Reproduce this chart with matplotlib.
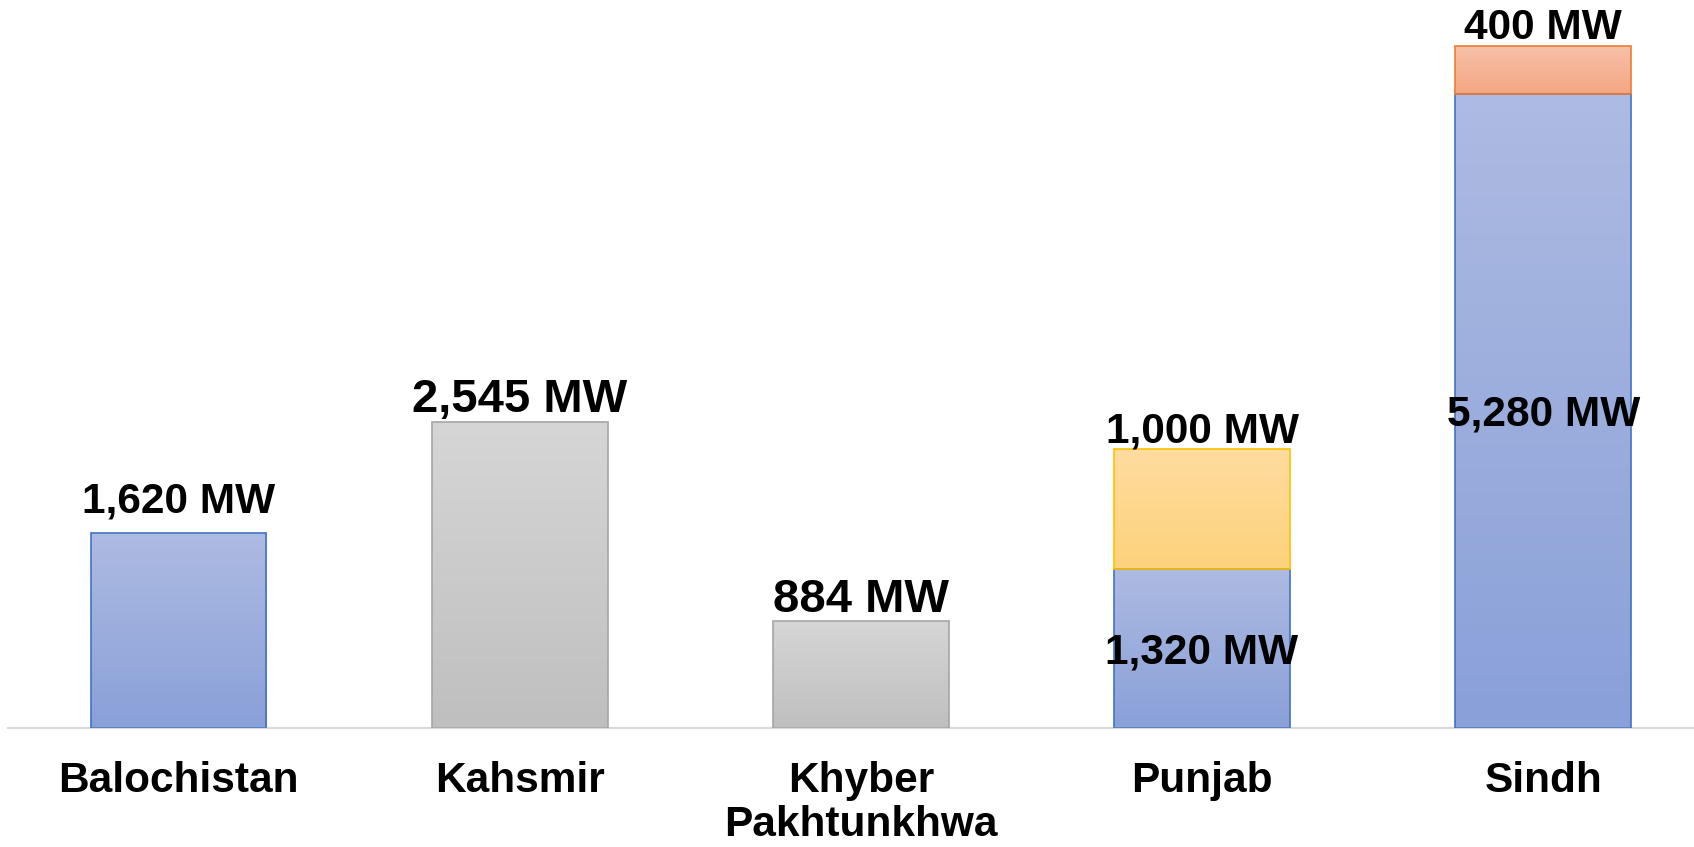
import numpy as np
import matplotlib
matplotlib.use("Agg")
import matplotlib.pyplot as plt
from matplotlib.colors import to_rgb

# ---------------- data ----------------
categories = ["Balochistan", "Kahsmir", "Khyber\nPakhtunkhwa", "Punjab", "Sindh"]
series_blue = [1620, 0, 0, 1320, 5280]
series_gray = [0, 2545, 884, 0, 0]
series_yellow = [0, 0, 0, 1000, 0]
series_orange = [0, 0, 0, 0, 400]

# ---------------- styles ----------------
series = [
    # values, top colour, bottom colour, edge colour, label size, label gap (pt)
    (series_blue, "#AEBBE2", "#89A0D8", "#4472C4", 30.5, 14.5),
    (series_gray, "#D6D6D6", "#BFBFBF", "#A5A5A5", 34, 7.0),
    (series_yellow, "#FFDC9F", "#FDD27C", "#FFC000", 30.5, 5.0),
    (series_orange, "#F7C1A9", "#F4A683", "#ED7D31", 30.5, 5.0),
]

plt.rcParams["font.family"] = ["Liberation Sans", "DejaVu Sans"]
plt.rcParams["font.weight"] = "bold"

fig = plt.figure(figsize=(16.94, 8.47), dpi=100)
ax = fig.add_axes([8.2 / 1694, 119.5 / 847, 1705.5 / 1694, 727.5 / 847])

x = np.arange(len(categories))
width = 0.5145
ax.set_xlim(-0.5, 4.5)
ax.set_ylim(0, 6062)

n_series = [sum(1 for s in series if s[0][i] > 0) for i in range(len(categories))]
bottoms = np.zeros(len(categories))
seg_index = np.zeros(len(categories), dtype=int)

for vals, ctop, cbot, cedge, fsize, gap in series:
    vals = np.asarray(vals, dtype=float)
    mask = vals > 0
    bars = ax.bar(x[mask], vals[mask], width=width, bottom=bottoms[mask],
                  color="none", edgecolor=cedge, linewidth=1.2, zorder=3)
    grad = np.linspace(0, 1, 256)[:, None, None]
    c0 = np.array(to_rgb(ctop))
    c1 = np.array(to_rgb(cbot))
    img = c0 * (1 - grad) + c1 * grad
    for xi, v, b, patch in zip(x[mask], vals[mask], bottoms[mask], bars.patches):
        im = ax.imshow(img, extent=(xi - width / 2, xi + width / 2, b, b + v),
                       origin="upper", aspect="auto", zorder=2,
                       interpolation="bilinear")
        im.set_clip_path(patch)
        i = int(xi)
        label = f"{int(v):,} MW"
        if n_series[i] > 1 and seg_index[i] == 0:
            # inner label, centred on the segment (cap-height centred)
            ax.annotate(label, (xi, b + v / 2), xytext=(0, -0.716 * fsize / 2),
                        textcoords="offset points", ha="center", va="baseline",
                        fontsize=fsize, fontweight="bold", color="black", zorder=5)
        else:
            ax.annotate(label, (xi, b + v), xytext=(0, gap),
                        textcoords="offset points", ha="center", va="baseline",
                        fontsize=fsize, fontweight="bold", color="black", zorder=5)
        seg_index[i] += 1
    bottoms = bottoms + vals

ax.set_xlim(-0.5, 4.5)
ax.set_ylim(0, 6062)

for side in ["top", "right", "left"]:
    ax.spines[side].set_visible(False)
ax.spines["bottom"].set_color("#D9D9D9")
ax.spines["bottom"].set_linewidth(1.6)
ax.spines["bottom"].set_zorder(1)
ax.set_yticks([])
ax.set_xticks(x)
ax.set_xticklabels(categories, fontsize=30.5, fontweight="bold", linespacing=1.13)
ax.tick_params(axis="x", length=0, pad=24)

fig.savefig("out.png", dpi=100)
